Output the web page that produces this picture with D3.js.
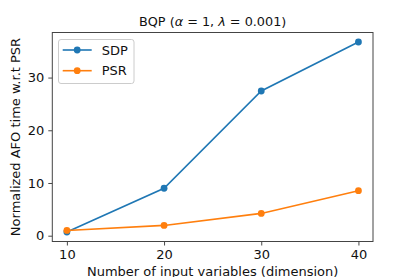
<!DOCTYPE html>
<html lang="en">
<head>
<meta charset="utf-8">
<script src="https://d3js.org/d3.v7.min.js"></script>
<style type="text/css">
body {
	margin: 0;
	background: #fff;
	font-family: "DejaVu Sans", sans-serif;
}
</style>
</head>
<body>
<script type="text/javascript">

// data
var dims = [10, 20, 30, 40];
var sdp = [0.7, 9.0, 27.45, 36.75];
var psr = [1.0, 1.95, 4.23, 8.54];
var xTicks = [10, 20, 30, 40];
var yTicks = [0, 10, 20, 30];
var seriesNames = ["SDP", "PSR"];
var seriesColors = ["#1f77b4", "#ff7f0e"];

var width = 415;
var height = 277;
var margin = {left: 52.3, right: 42, top: 32.5, bottom: 35.5};

var svg = d3.select("body")
	.append("svg")
	.attr("width", width)
	.attr("height", height);

var x = d3.scaleLinear()
	.domain([8.5, 41.5])
	.range([margin.left, width - margin.right]);

var y = d3.scaleLinear()
	.domain([-1.1, 38.55])
	.range([height - margin.bottom, margin.top]);

// axes
var xAxis = svg.append("g")
	.attr("transform", "translate(0," + (height - margin.bottom) + ")")
	.call(d3.axisBottom(x).tickValues(xTicks).tickSize(4).tickPadding(4).tickFormat(d3.format("d")));

var yAxis = svg.append("g")
	.attr("transform", "translate(" + margin.left + ",0)")
	.call(d3.axisLeft(y).tickValues(yTicks).tickSize(4).tickPadding(4).tickFormat(d3.format("d")));

[xAxis, yAxis].forEach(function(a) {
	a.select(".domain").remove();
	a.selectAll("line").attr("stroke", "#333").attr("stroke-width", 0.9);
	a.selectAll("text")
		.attr("fill", "#111")
		.style("font-family", "'DejaVu Sans', sans-serif")
		.style("font-size", "13px");
});

// frame
svg.append("rect")
	.attr("x", margin.left)
	.attr("y", margin.top)
	.attr("width", width - margin.left - margin.right)
	.attr("height", height - margin.top - margin.bottom)
	.attr("fill", "none")
	.attr("stroke", "#444")
	.attr("stroke-width", 1);

// lines
var line = d3.line()
	.x(function(d, i) { return x(dims[i]); })
	.y(function(d) { return y(d); });

[sdp, psr].forEach(function(s, k) {
	svg.append("path")
		.datum(s)
		.attr("d", line)
		.attr("fill", "none")
		.attr("stroke", seriesColors[k])
		.attr("stroke-width", 1.6);

	svg.selectAll(".pt" + k)
		.data(s)
		.enter()
		.append("circle")
		.attr("cx", function(d, i) { return x(dims[i]); })
		.attr("cy", function(d) { return y(d); })
		.attr("r", 3.4)
		.attr("fill", seriesColors[k]);
});

// title, greek letters in italic like mathtext
var title = svg.append("text")
	.attr("x", (margin.left + width - margin.right) / 2)
	.attr("y", 25.5)
	.attr("text-anchor", "middle")
	.style("font-size", "12.8px")
	.attr("fill", "#111");
title.append("tspan").text("BQP (");
title.append("tspan").style("font-style", "italic").text("\u03b1");
title.append("tspan").text(" = 1, ");
title.append("tspan").style("font-style", "italic").text("\u03bb");
title.append("tspan").text(" = 0.001)");

// axis labels
svg.append("text")
	.attr("x", (margin.left + width - margin.right) / 2)
	.attr("y", 276)
	.attr("text-anchor", "middle")
	.style("font-size", "13px")
	.attr("fill", "#111")
	.text("Number of input variables (dimension)");

svg.append("text")
	.attr("transform", "translate(20," + ((margin.top + height - margin.bottom) / 2) + ") rotate(-90)")
	.attr("text-anchor", "middle")
	.style("font-size", "13px")
	.attr("fill", "#111")
	.text("Normalized AFO time w.r.t PSR");

// legend
var legend = svg.append("g");

legend.append("rect")
	.attr("x", 58.5)
	.attr("y", 39.5)
	.attr("width", 75.5)
	.attr("height", 44)
	.attr("rx", 2.5)
	.attr("fill", "#fff")
	.attr("fill-opacity", 0.8)
	.attr("stroke", "#ccc")
	.attr("stroke-width", 1);

var item = legend.selectAll(".item")
	.data(seriesNames)
	.enter()
	.append("g")
	.attr("transform", function(d, i) { return "translate(0," + (50 + i * 20.7) + ")"; });

item.append("line")
	.attr("x1", 62.7)
	.attr("x2", 91.7)
	.attr("stroke", function(d, i) { return seriesColors[i]; })
	.attr("stroke-width", 1.6);

item.append("circle")
	.attr("cx", 77.2)
	.attr("r", 3.4)
	.attr("fill", function(d, i) { return seriesColors[i]; });

item.append("text")
	.attr("x", 101.7)
	.attr("dy", "0.36em")
	.style("font-size", "13px")
	.attr("fill", "#111")
	.text(function(d) { return d; });

</script>
</body>
</html>
